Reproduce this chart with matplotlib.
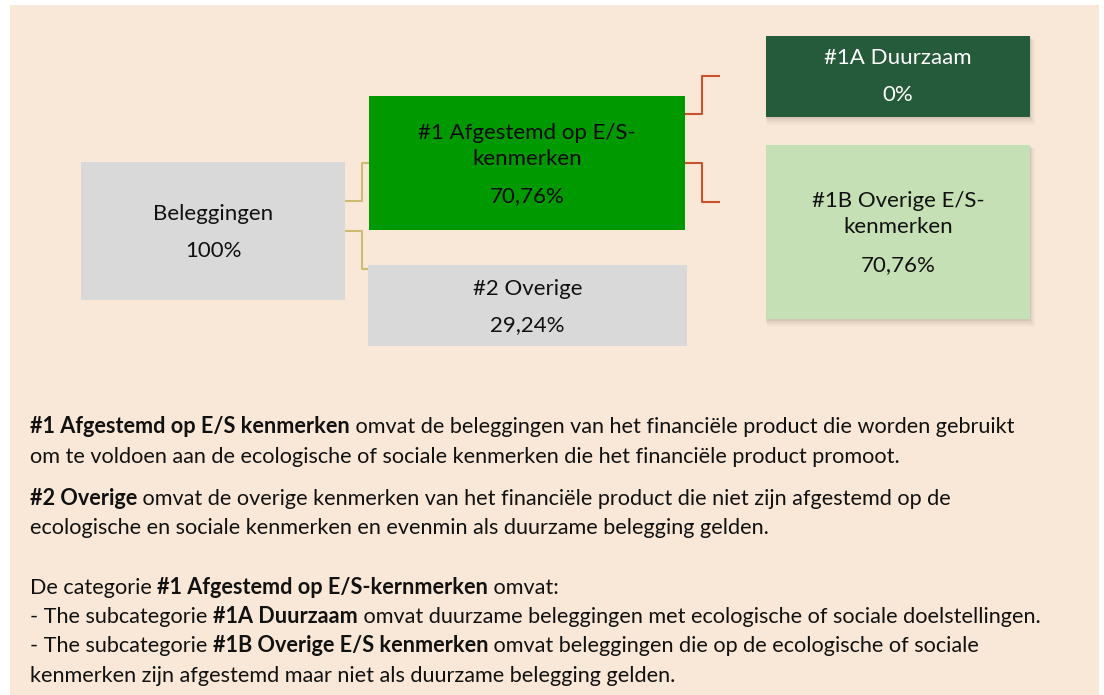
import matplotlib
matplotlib.use("Agg")
import matplotlib.pyplot as plt
from matplotlib.patches import Rectangle

# ---------------- data ----------------
node_names = ["Beleggingen", "#1 Afgestemd op E/S-\nkenmerken", "#2 Overige",
              "#1A Duurzaam", "#1B Overige E/S-\nkenmerken"]
node_values = [100, 70.76, 29.24, 0, 70.76]

text_lines = [
    [("#1 Afgestemd op E/S kenmerken", True),
     (" omvat de beleggingen van het financiële product die worden gebruikt", False)],
    [("om te voldoen aan de ecologische of sociale kenmerken die het financiële product promoot.", False)],
    [("#2 Overige", True),
     (" omvat de overige kenmerken van het financiële product die niet zijn afgestemd op de", False)],
    [("ecologische en sociale kenmerken en evenmin als duurzame belegging gelden.", False)],
    [("De categorie ", False), ("#1 Afgestemd op E/S-kernmerken", True), (" omvat:", False)],
    [("- The subcategorie ", False), ("#1A Duurzaam", True),
     (" omvat duurzame beleggingen met ecologische of sociale doelstellingen.", False)],
    [("- The subcategorie ", False), ("#1B Overige E/S kenmerken", True),
     (" omvat beleggingen die op de ecologische of sociale", False)],
    [("kenmerken zijn afgestemd maar niet als duurzame belegging gelden.", False)],
]

# ---------------- layout / style ----------------
W, H = 1104, 695
FONT = ["Lato", "DejaVu Sans"]
BG = "#F9E8D7"
boxes = [  # x0, y0, x1, y1, face, textcolor, first baseline, line step, shadow
    (81, 162, 345, 300, "#D9D9D9", "#111111", 220, 37, False),
    (369, 96, 685, 230, "#009900", "#0a0a0a", 139, 26, False),
    (368, 265, 687, 346, "#D9D9D9", "#111111", 295, 36, False),
    (766, 36, 1030, 117, "#255A3A", "#FFFFFF", 64, 37, True),
    (766, 145, 1030, 319, "#C5E0B4", "#111111", 207, 26, True),
]
value_gap = [0, 37, 0, 0, 38]

fig = plt.figure(figsize=(W / 100, H / 100), dpi=100)
fig.patch.set_facecolor("white")
ax = fig.add_axes([0, 0, 1, 1])
ax.set_xlim(0, W)
ax.set_ylim(H, 0)
ax.axis("off")

ax.add_patch(Rectangle((10, 5), 1089, 690, facecolor=BG, edgecolor="none", zorder=0))


def fmt(v):
    s = f"{v:.2f}".rstrip("0").rstrip(".")
    return s.replace(".", ",") + "%"


for (x0, y0, x1, y1, fc, tc, b0, step, shadow), name, val, vg in zip(
        boxes, node_names, node_values, value_gap):
    if shadow:
        for k, a in enumerate([0.10, 0.07, 0.05, 0.03]):
            d = k + 1
            ax.add_patch(Rectangle((x0 - 1 + d * 0.5, y0 + d), x1 - x0 + d, y1 - y0 + d,
                                   facecolor="#6b5a4a", alpha=a, edgecolor="none", zorder=1))
    ax.add_patch(Rectangle((x0, y0), x1 - x0, y1 - y0, facecolor=fc, edgecolor="none", zorder=2))
    cx = (x0 + x1) / 2
    lines = name.split("\n")
    y = b0
    for i, ln in enumerate(lines):
        ax.text(cx, y, ln, ha="center", va="baseline", fontsize=16, color=tc,
                family=FONT, zorder=3)
        if i < len(lines) - 1:
            y += step
    y += vg if vg else step
    ax.text(cx, y, fmt(val), ha="center", va="baseline", fontsize=16, color=tc,
            family=FONT, zorder=3)

# connectors
gold = "#CDBB74"
red = "#C9512D"
ax.plot([345, 362, 362, 369], [201, 201, 163, 163], color=gold, lw=1.5, zorder=1)
ax.plot([345, 362, 362, 368], [231, 231, 269, 269], color=gold, lw=1.5, zorder=1)
ax.plot([685, 702, 702, 719], [114, 114, 76, 76], color=red, lw=1.5, zorder=1)
ax.plot([685, 702, 702, 719], [163, 163, 202, 202], color=red, lw=1.5, zorder=1)

# explanatory text with mixed bold
baselines = [433, 463, 505, 534, 594, 623, 652, 682]
fig.canvas.draw()
renderer = fig.canvas.get_renderer()
for segs, yb in zip(text_lines, baselines):
    x = 30
    for s, bold in segs:
        t = ax.text(x, yb, s, ha="left", va="baseline", fontsize=15.55,
                    fontweight="bold" if bold else "normal", color="#111111",
                    family=FONT, zorder=3)
        bb = t.get_window_extent(renderer=renderer)
        x = bb.x1

fig.savefig("out.png", dpi=100, facecolor=fig.get_facecolor())
